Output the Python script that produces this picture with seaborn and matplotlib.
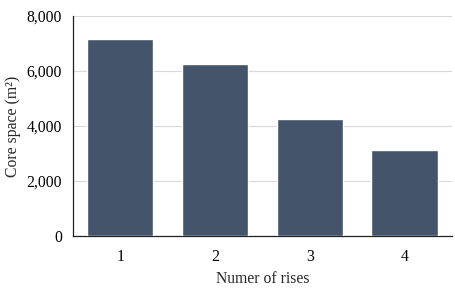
import matplotlib
matplotlib.use("Agg")
import matplotlib.pyplot as plt
import seaborn as sns
import pandas as pd
from matplotlib.ticker import FuncFormatter

categories = ["1", "2", "3", "4"]
values = [7160, 6240, 4240, 3120]
yticks = [0, 2000, 4000, 6000, 8000]

sns.set_theme(style="white")
plt.rcParams['font.family'] = ['Liberation Serif', 'DejaVu Serif']

df = pd.DataFrame({"rises": categories, "space": values})

fig = plt.figure(figsize=(4.56, 2.92), dpi=100)
ax = fig.add_axes([0.160, 0.192, 0.831, 0.753])
sns.barplot(data=df, x="rises", y="space", color="#44546a", saturation=1,
            width=0.7, ax=ax, zorder=3)
ax.set_ylim(0, 8000)
ax.set_yticks(yticks)
ax.yaxis.set_major_formatter(FuncFormatter(lambda v, p: f"{int(v):,}"))
ax.grid(axis="y", color="#d9d9d9", linewidth=0.8, zorder=0)
ax.set_axisbelow(True)
for s in ["top", "right"]:
    ax.spines[s].set_visible(False)
ax.spines["left"].set_color("#222222")
ax.spines["bottom"].set_color("#222222")
ax.spines["left"].set_linewidth(0.9)
ax.spines["bottom"].set_linewidth(0.9)
ax.tick_params(axis="y", labelsize=11.3, length=0, colors="black", pad=8)
ax.tick_params(axis="x", labelsize=11.3, length=0, colors="black", pad=9.5)
ax.set_xlabel("Numer of rises", fontsize=11.3, labelpad=4)
ax.set_ylabel("Core space (m²)", fontsize=11.3, labelpad=4)
fig.savefig("out.png", dpi=100)
